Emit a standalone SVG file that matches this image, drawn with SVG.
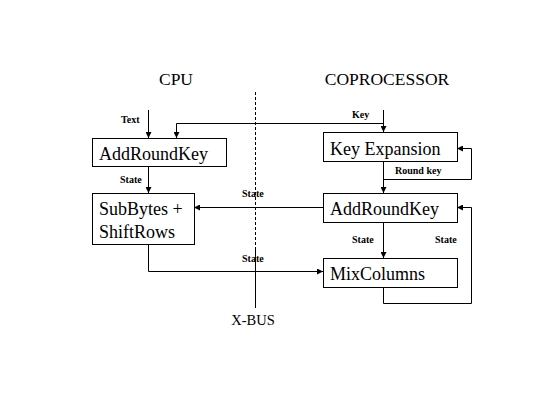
<svg xmlns="http://www.w3.org/2000/svg" width="555" height="416" viewBox="0 0 555 416">
<defs>
<marker id="ah" viewBox="0 0 6 6" refX="6" refY="3" markerWidth="6" markerHeight="6" markerUnits="userSpaceOnUse" orient="auto">
<path d="M0,0 L6,3 L0,6 z" fill="#000"/>
</marker>
<style>
.box{fill:#fff;stroke:#000;stroke-width:1}
.bt{font-family:"Liberation Serif",serif;font-size:18px;fill:#000}
.hd{font-family:"Liberation Serif",serif;font-size:17.5px;fill:#000;text-anchor:middle}
.lb{font-family:"Liberation Serif",serif;font-size:10px;font-weight:bold;fill:#000}
.c{fill:none;stroke:#000;stroke-width:1}
.a{fill:none;stroke:#000;stroke-width:1;marker-end:url(#ah)}
</style>
</defs>
<rect width="555" height="416" fill="#fff"/>
<text class="hd" x="176" y="85">CPU</text>
<text class="hd" x="387" y="85">COPROCESSOR</text>
<g id="bus">
<line x1="255.5" y1="92" x2="255.5" y2="250" stroke="#000" stroke-width="1" stroke-dasharray="3,2"/>
<line x1="255.5" y1="250" x2="255.5" y2="308" stroke="#000" stroke-width="1"/>
<text class="hd" x="253" y="325" style="font-size:14.5px">X-BUS</text>
</g>
<g id="connectors">
<path class="a" d="M148.5,110 V138"/>
<path class="a" d="M383.5,110 V132"/>
<path class="a" d="M383.5,123.5 H176.5 V138"/>
<path class="a" d="M148.5,166 V193"/>
<path class="a" d="M383.5,161 V193"/>
<path class="a" d="M383.5,179.5 H471.5 V148.5 H457"/>
<path class="a" d="M323,207.5 H194"/>
<path class="a" d="M148.5,244 V271.5 H323"/>
<path class="a" d="M383.5,222 V258"/>
<path class="a" d="M383.5,287 V303.5 H471.5 V207.5 H457"/>
<text class="lb" x="121" y="123">Text</text>
<text class="lb" x="352" y="118">Key</text>
<text class="lb" x="120" y="183">State</text>
<text class="lb" x="395" y="174">Round key</text>
<text class="lb" x="242" y="197">State</text>
<text class="lb" x="242" y="262">State</text>
<text class="lb" x="352" y="243">State</text>
<text class="lb" x="435" y="243">State</text>
</g>
<g id="cpu-addroundkey"><rect class="box" x="92.5" y="138.5" width="134" height="28"/><text class="bt" x="99" y="160">AddRoundKey</text></g>
<g id="subbytes"><rect class="box" x="92.5" y="193.5" width="102" height="51"/><text class="bt" x="99" y="215">SubBytes +</text><text class="bt" x="99" y="238">ShiftRows</text></g>
<g id="keyexp"><rect class="box" x="323.5" y="132.5" width="134" height="29"/><text class="bt" x="330" y="155">Key Expansion</text></g>
<g id="cop-addroundkey"><rect class="box" x="323.5" y="193.5" width="134" height="29"/><text class="bt" x="330" y="215">AddRoundKey</text></g>
<g id="mixcolumns"><rect class="box" x="323.5" y="258.5" width="134" height="29"/><text class="bt" x="330" y="280">MixColumns</text></g>
</svg>
